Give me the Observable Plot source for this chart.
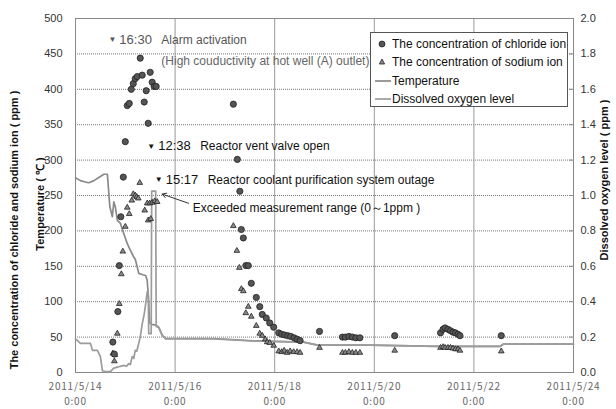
<!DOCTYPE html>
<html><head><meta charset="utf-8">
<script src="https://cdn.jsdelivr.net/npm/d3@7"></script>
<script src="https://cdn.jsdelivr.net/npm/@observablehq/plot@0.6"></script>
<style>
body{margin:0;background:#fff;}
#wrap{position:relative;width:616px;height:409px;overflow:hidden;font-family:"Liberation Sans",Arial,sans-serif;}
#wrap svg{position:absolute;left:0;top:0;}
#wrap svg g[aria-label="x-axis tick label"] text{letter-spacing:0.8px;}
.legend{position:absolute;left:370px;top:32px;width:196px;height:73px;border:1px solid #555;background:#fff;font-size:12px;color:#111;}
.legend .row{position:absolute;left:0;height:18px;line-height:18px;white-space:nowrap;}
.legend svg{position:static !important;vertical-align:middle;}
.vt{position:absolute;white-space:nowrap;font-weight:bold;font-size:11px;color:#111;transform:translate(-50%,-50%) rotate(-90deg);}
</style>
</head><body>
<div id="wrap"></div>
<script>
// ---- data (day-of-May 2011, fractional) ----
const chlorideDays = [14.75,14.78,14.85,14.88,14.91,14.96,15.00,15.04,15.08,15.12,15.16,15.20,15.24,15.30,15.34,15.38,15.42,15.46,15.50,15.54,15.58,15.62,
  17.17,17.25,17.30,17.33,17.37,17.42,17.47,17.53,17.63,17.70,17.75,17.83,17.90,17.98,18.08,18.14,18.20,18.26,18.32,18.39,18.45,18.51,
  18.90,19.36,19.42,19.49,19.56,19.63,19.71,20.41,21.33,21.38,21.42,21.48,21.53,21.58,21.63,21.68,21.72,22.55];
const chlorideValues = [43,26,86,151,220,276,326,377,380,400,408,415,418,444,420,382,398,352,424,410,404,404,
  379,301,256,202,190,151,151,126,106,93,82,77,70,64,56,54,53,52,51,49,47,45,
  58,50,50,51,50,49,49,52,56,61,63,61,59,57,56,54,52,52];
const sodiumDays = [14.75,14.78,14.79,14.84,14.88,14.92,14.95,15.00,15.04,15.08,15.13,15.16,15.20,15.23,15.26,15.29,15.39,15.44,15.46,15.49,15.51,15.54,15.59,15.64,
  17.17,17.24,17.29,17.33,17.37,17.42,17.47,17.53,17.63,17.70,17.75,17.81,17.85,17.90,17.98,18.08,18.14,18.19,18.25,18.31,18.38,18.45,18.51,
  18.90,19.36,19.42,19.49,19.56,19.63,19.71,20.41,21.33,21.38,21.42,21.48,21.53,21.58,21.63,21.68,21.72,22.55];
const sodiumValues = [27,16,25,55,97,139,171,206,233,224,243,252,250,248,246,268,229,239,215,239,217,240,242,241,
  207,172,148,118,115,84,93,79,66,55,52,47,43,42,38,30,29,31,28,30,29,29,28,
  35,28,28,29,28,28,28,31,35,36,35,35,35,34,33,33,31,30];
const tempDays = [14.00,14.10,14.20,14.27,14.37,14.46,14.57,14.64,14.69,14.74,14.77,14.80,14.84,14.90,14.97,15.04,15.10,15.17,15.20,15.24,15.27,15.35,15.41,15.44,15.47,15.49,15.53,15.61,15.67,15.74,15.81,16.77,17.57,18.58,18.86,19.92,21.27,22.53,22.59,24.00];
const tempValues = [275,271,269,268,271,275,280,280,234,220,241,234,215,211,196,182,173,163,160,149,140,138,137,130,100,70,68,67,64,53,48,48,44.6,43,38.6,38.6,37,37,40,40];
const oxygenDays = [14.00,14.10,14.30,14.34,14.44,14.50,14.54,14.60,14.70,14.77,14.84,14.90,14.97,15.02,15.07,15.10,15.14,15.17,15.20,15.23,15.27,15.30,15.34,15.38,15.41,15.44,15.46,15.47,15.52,15.53,15.61,15.62,15.67,15.74,15.81,16.77,17.57,18.58,18.86,19.92,21.27,22.53,22.59,24.00];
const oxygenValues = [0.19,0.165,0.165,0.125,0.125,0.09,0.01,0.005,0.005,0.025,0.03,0.035,0.04,0.035,0.05,0.045,0.09,0.08,0.125,0.12,0.165,0.2,0.275,0.33,0.39,0.455,0.465,0.22,0.22,1.025,1.025,0.26,0.255,0.21,0.19,0.19,0.178,0.172,0.155,0.155,0.148,0.148,0.16,0.16];
const leftTicks = [0,50,100,150,200,250,300,350,400,450,500];
const rightTickLabels = ["0.0","0.2","0.4","0.6","0.8","1.0","1.2","1.4","1.6","1.8","2.0"];
const xTickDays = [14,16,18,20,22,24];
const eventDays = [14.74,15.52,15.67];
const eventValues = [470,320,272];
const eventTimes = ["16:30","12:38","15:17"];
const eventLabels = ["Alarm activation","Reactor vent valve open","Reactor coolant purification system outage"];
const eventColors = ["#555","#111","#111"];
const alarmNote = "(High couductivity at hot well (A) outlet)";
const alarmNoteValue = 440;
const rangeNote = "Exceeded measurement range (0～1ppm )";
const rangeNoteDay = 16.355, rangeNoteValue = 232;
const arrowFrom = [16.27, 239], arrowTo = [15.74, 252];
const oxygenToLeft = 250; // 2.0 ppm ↔ 500

// ---- build ----
const toDate = d => new Date(Date.UTC(2011,4,1) + (d-1)*864e5);
const chloride = chlorideDays.map((d,i)=>({t:toDate(d), v:chlorideValues[i]}));
const sodium = sodiumDays.map((d,i)=>({t:toDate(d), v:sodiumValues[i]}));
const temp = tempDays.map((d,i)=>({t:toDate(d), v:tempValues[i]}));
const oxygen = oxygenDays.map((d,i)=>({t:toDate(d), v:oxygenValues[i]*oxygenToLeft}));
const xTicks = xTickDays.map(toDate);
const events = eventDays.map((d,i)=>({t:toDate(d), v:eventValues[i], time:eventTimes[i], label:eventLabels[i], c:eventColors[i]}));
const fmtDate = d => `${d.getUTCFullYear()}/${d.getUTCMonth()+1}/${d.getUTCDate()}\n0:00`;

const chart = Plot.plot({
  width: 616, height: 409,
  marginLeft: 75, marginRight: 43, marginTop: 18, marginBottom: 37,
  style: {fontFamily: "'Liberation Sans', Arial, sans-serif", fontSize: "11px", background: "transparent", color: "#333"},
  x: {type: "utc", domain: [toDate(14), toDate(24)]},
  y: {domain: [0, 500]},
  marks: [
    Plot.gridY(leftTicks, {stroke: "#777", strokeOpacity: 1, strokeDasharray: "1,1"}),
    Plot.gridX(xTicks, {stroke: "#999", strokeOpacity: 1}),
    Plot.frame({stroke: "#888"}),
    Plot.axisY(leftTicks, {anchor: "left", tickSize: 0, tickPadding: 13, label: null, fill: "#333", fontSize: 11}),
    Plot.axisY(leftTicks, {anchor: "right", tickSize: 0, tickPadding: 7, label: null, fill: "#333", fontSize: 11,
      tickFormat: v => rightTickLabels[leftTicks.indexOf(v)]}),
    Plot.ruleY(leftTicks, {x1: toDate(23.92), x2: toDate(24), stroke: "#888"}),
    Plot.axisX(xTicks, {tickSize: 0, tickPadding: 6, label: null, tickFormat: fmtDate, lineHeight: 1.55,
      fontFamily: "'Noto Sans CJK JP', sans-serif", fontSize: 10, fill: "#666"}),
    Plot.line(temp, {x: "t", y: "v", stroke: "#8a8a8a", strokeWidth: 1.7}),
    Plot.line(oxygen, {x: "t", y: "v", stroke: "#9c9c9c", strokeWidth: 1.7}),
    Plot.dot(sodium, {x: "t", y: "v", symbol: "triangle", r: 2.1, fill: "#8a8a8a", stroke: "#222", strokeWidth: 0.8}),
    Plot.dot(chloride, {x: "t", y: "v", r: 3.1, fill: "#555", stroke: "#222", strokeWidth: 0.8}),
    Plot.text(events, {x: "t", y: "v", text: () => "▼", fontSize: 8, fill: d => d.c}),
    Plot.text(events, {x: "t", y: "v", text: "time", dx: 7, textAnchor: "start", fontSize: 13, fill: d => d.c}),
    Plot.text(events, {x: "t", y: "v", text: "label", dx: 49, textAnchor: "start", fontSize: 12, fill: d => d.c}),
    Plot.text([alarmNote], {x: toDate(eventDays[0]), y: alarmNoteValue, text: d => d, dx: 49, textAnchor: "start", fontSize: 12, fill: "#666"}),
    Plot.text([rangeNote], {x: toDate(rangeNoteDay), y: rangeNoteValue, text: d => d, textAnchor: "start", fontSize: 12, fill: "#111"}),
    Plot.arrow([0], {x1: toDate(arrowFrom[0]), y1: arrowFrom[1], x2: toDate(arrowTo[0]), y2: arrowTo[1], stroke: "#333", strokeWidth: 1, headLength: 7})
  ]
});
const wrap = document.getElementById("wrap");
wrap.appendChild(chart);

// legend
const leg = document.createElement("div");
leg.className = "legend";
const items = [
  {sym: '<svg width="18" height="10"><circle cx="9" cy="5" r="3" fill="#555" stroke="#222" stroke-width="0.8"/></svg>', text: "The concentration of chloride ion"},
  {sym: '<svg width="18" height="10"><path d="M9,2L11.6,7L6.4,7Z" fill="#8a8a8a" stroke="#222" stroke-width="0.8"/></svg>', text: "The concentration of sodium ion"},
  {sym: '<svg width="18" height="10"><line x1="2" x2="18" y1="5" y2="5" stroke="#8a8a8a" stroke-width="1.7"/></svg>', text: "Temperature"},
  {sym: '<svg width="18" height="10"><line x1="2" x2="18" y1="5" y2="5" stroke="#9c9c9c" stroke-width="1.7"/></svg>', text: "Dissolved oxygen level"}
];
items.forEach((it, i) => {
  const r = document.createElement("div");
  r.className = "row";
  r.style.top = (1 + i * 18.4) + "px";
  r.style.left = "2px";
  r.innerHTML = it.sym + '<span style="vertical-align:middle;margin-left:1px">' + it.text + '</span>';
  leg.appendChild(r);
});
wrap.appendChild(leg);

// axis titles
const titles = [
  {text: "The concentration of chloride and sodium ion ( ppm )", x: 14, y: 230},
  {text: "Temperature ( ℃ )", x: 39, y: 204},
  {text: "Dissolved oxygen level ( ppm )", x: 604, y: 180}
];
titles.forEach(t => {
  const d = document.createElement("div");
  d.className = "vt";
  d.textContent = t.text;
  d.style.left = t.x + "px";
  d.style.top = t.y + "px";
  wrap.appendChild(d);
});
</script>
</body></html>
